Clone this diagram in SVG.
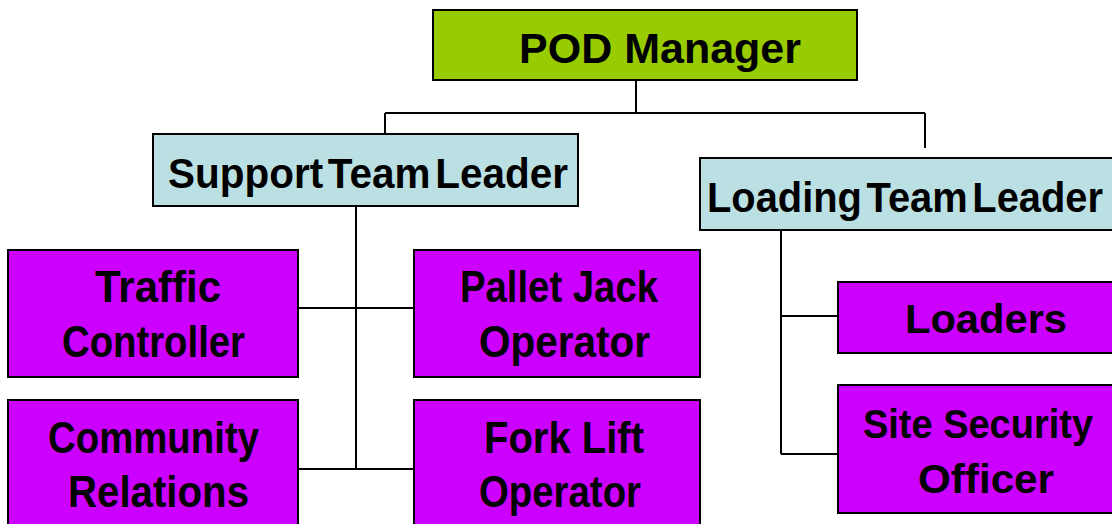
<svg xmlns="http://www.w3.org/2000/svg" width="1112" height="524" viewBox="0 0 1112 524">
<style>
.box{stroke:#000;stroke-width:2}
.g{fill:#99CC00}
.c{fill:#BBE0E3}
.p{fill:#CC00FF}
text{font-family:"Liberation Sans",Arial,sans-serif;font-weight:bold;fill:#000}
.t{font-size:45px}
.conn{stroke:#000;stroke-width:2;fill:none}
</style>
<rect width="1112" height="524" fill="#fff"/>
<g id="connectors">
<path class="conn" d="M636 80V113M385 113H925M385 113V134M925 113V148"/>
<path class="conn" d="M356 206V469M298 308H414M298 469H414"/>
<path class="conn" d="M781 230V454M781 316H838M781 454H838"/>
</g>
<g id="pod-manager">
<rect class="box g" x="433" y="10" width="424" height="70"/>
<text x="660" y="63" font-size="43" text-anchor="middle">POD Manager</text>
</g>
<g id="support-team-leader">
<rect class="box c" x="153" y="134" width="425" height="72"/>
<text x="168" y="188" font-size="43" word-spacing="-7" textLength="400" lengthAdjust="spacingAndGlyphs">Support Team Leader</text>
</g>
<g id="loading-team-leader">
<rect class="box c" x="700" y="158" width="430" height="72"/>
<text x="707" y="212" font-size="43" word-spacing="-7" textLength="396" lengthAdjust="spacingAndGlyphs">Loading Team Leader</text>
</g>
<g id="traffic-controller">
<rect class="box p" x="8" y="250" width="290" height="127"/>
<text class="t" x="95" y="302" textLength="126" lengthAdjust="spacingAndGlyphs">Traffic</text>
<text class="t" x="62" y="357" textLength="183" lengthAdjust="spacingAndGlyphs">Controller</text>
</g>
<g id="pallet-jack-operator">
<rect class="box p" x="414" y="250" width="286" height="127"/>
<text class="t" x="460" y="302" textLength="198" lengthAdjust="spacingAndGlyphs">Pallet Jack</text>
<text class="t" x="479" y="357" textLength="171" lengthAdjust="spacingAndGlyphs">Operator</text>
</g>
<g id="community-relations">
<rect class="box p" x="8" y="400" width="290" height="130"/>
<text class="t" x="48" y="453" textLength="211" lengthAdjust="spacingAndGlyphs">Community</text>
<text class="t" x="68" y="507" textLength="181" lengthAdjust="spacingAndGlyphs">Relations</text>
</g>
<g id="fork-lift-operator">
<rect class="box p" x="414" y="400" width="286" height="130"/>
<text class="t" x="484" y="453" textLength="160" lengthAdjust="spacingAndGlyphs">Fork Lift</text>
<text class="t" x="479" y="507" textLength="162" lengthAdjust="spacingAndGlyphs">Operator</text>
</g>
<g id="loaders">
<rect class="box p" x="838" y="282" width="290" height="71"/>
<text x="905" y="333" font-size="41" textLength="162" lengthAdjust="spacingAndGlyphs">Loaders</text>
</g>
<g id="site-security-officer">
<rect class="box p" x="838" y="385" width="290" height="128"/>
<text x="863" y="438" font-size="40" textLength="230" lengthAdjust="spacingAndGlyphs">Site Security</text>
<text x="918" y="493" font-size="40" textLength="136" lengthAdjust="spacingAndGlyphs">Officer</text>
</g>
</svg>
